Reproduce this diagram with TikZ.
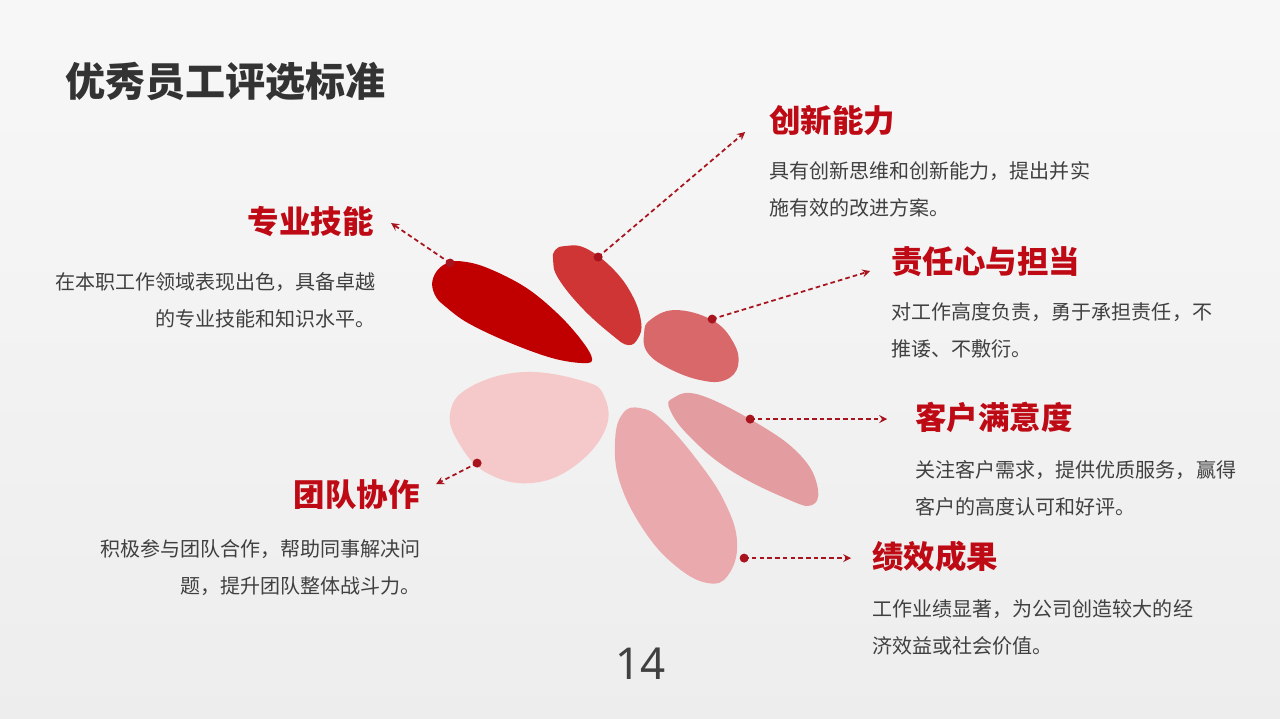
\documentclass[tikz,border=0pt]{standalone}
\usepackage{fontspec}
\setmainfont{Noto Sans CJK SC}
\setsansfont{Noto Sans}
\definecolor{titlegray}{HTML}{333333}
\definecolor{textgray}{HTML}{404040}
\definecolor{headred}{HTML}{BE0A14}
\definecolor{linkred}{HTML}{A8141E}
\definecolor{petalA}{HTML}{C00000}
\definecolor{petalB}{HTML}{CF3535}
\definecolor{petalC}{HTML}{D9686A}
\definecolor{petalD}{HTML}{F5C9CA}
\definecolor{petalE}{HTML}{EAA9AC}
\definecolor{petalF}{HTML}{E39C9F}
\begin{document}
\begin{tikzpicture}[
    x=0.02cm, y=-0.02cm,
    heading/.style={
        inner sep=0pt,
        font=\fontsize{17.9}{20}\selectfont\bfseries,
        text=headred
    },
    bodytext/.style={
        inner sep=0pt,
        font=\fontsize{11.4}{21}\selectfont,
        text=textgray
    },
    dot/.style={
        circle,
        fill=linkred,
        inner sep=0pt,
        minimum size=0.18cm
    },
    link/.style={
        -stealth,
        linkred,
        line width=1pt,
        dash pattern=on 2.6pt off 1.8pt
    }
]

% Hintergrund
\shade[top color=black!3, middle color=white, bottom color=black!7]
    (0cm,0cm) rectangle (25.6cm,-14.38cm);

% Titel
\node[inner sep=0pt, anchor=west, text=titlegray,
      font=\fontsize{22.8}{26}\selectfont\bfseries] (titel) at (65,82) {优秀员工评选标准};

% Blaetter
\fill[petalA] plot[smooth cycle, tension=0.6] coordinates {
    (432,284) (436,272) (445,264) (458,261) (485,267) (525,287) (558,314) (582,341) (592,359)
    (583,363) (552,358) (508,342) (468,323) (446,307) (436,297)};
\fill[petalB] plot[smooth cycle, tension=0.7] coordinates {
    (555,250) (565,246) (585,248) (612,268) (632,295) (641,322) (638,338) (628,345)
    (612,335) (582,308) (558,278) (553,260)};
\fill[petalC] plot[smooth cycle, tension=0.7] coordinates {
    (650,320) (675,310) (712,320) (733,342) (738,365) (725,380) (700,380) (668,368) (647,352) (644,333)};
\fill[petalD] plot[smooth cycle, tension=0.7] coordinates {
    (470,387) (523,372) (583,381) (604,396) (605,430) (573,467) (530,483) (487,473) (460,445) (450,413)};
\fill[petalE] plot[smooth cycle, tension=0.7] coordinates {
    (623,413) (640,408) (662,420) (697,460) (725,503) (737,543) (728,575) (708,583) (677,567) (645,532) (620,483) (615,440)};
\fill[petalF] plot[smooth cycle, tension=0.7] coordinates {
    (673,398) (700,395) (760,425) (800,455) (817,485) (812,505) (785,498) (730,470) (690,437) (670,410)};

% Ueberschriften
\node[heading, anchor=east] (skill) at (374,222) {专业技能};
\node[heading, anchor=west] (innov) at (769,121) {创新能力};
\node[heading, anchor=west] (duty) at (891,262) {责任心与担当};
\node[heading, anchor=west] (client) at (915,417) {客户满意度};
\node[heading, anchor=east] (team) at (420,494) {团队协作};
\node[heading, anchor=west] (result) at (872,556) {绩效成果};

% Beschreibungen
\node[bodytext, anchor=north east, align=right] (skilltext) at (376,272)
    {在本职工作领域表现出色，具备卓越\\的专业技能和知识水平。};
\node[bodytext, anchor=north west, align=left] (innovtext) at (769,161)
    {具有创新思维和创新能力，提出并实\\施有效的改进方案。};
\node[bodytext, anchor=north west, align=left] (dutytext) at (891,302)
    {对工作高度负责，勇于承担责任，不\\推诿、不敷衍。};
\node[bodytext, anchor=north west, align=left] (clienttext) at (915,460)
    {关注客户需求，提供优质服务，赢得\\客户的高度认可和好评。};
\node[bodytext, anchor=north east, align=right] (teamtext) at (421,539)
    {积极参与团队合作，帮助同事解决问\\题，提升团队整体战斗力。};
\node[bodytext, anchor=north west, align=left] (resulttext) at (872,599)
    {工作业绩显著，为公司创造较大的经\\济效益或社会价值。};

% Punkte und Pfeile
\node[dot] (skilldot) at (450,263) {};
\node[dot] (innovdot) at (598,257) {};
\node[dot] (dutydot) at (712,319) {};
\node[dot] (clientdot) at (750,419) {};
\node[dot] (teamdot) at (477,463) {};
\node[dot] (resultdot) at (744,558) {};

\coordinate (skilltip) at (391,223);
\coordinate (innovtip) at (745,132);
\coordinate (dutytip) at (870,271);
\coordinate (clienttip) at (887,419);
\coordinate (teamtip) at (436,484);
\coordinate (resulttip) at (851,558);

\draw[link] (skilldot.center) -- (skilltip);
\draw[link] (innovdot.center) -- (innovtip);
\draw[link] (dutydot.center) -- (dutytip);
\draw[link] (clientdot.center) -- (clienttip);
\draw[link] (teamdot.center) -- (teamtip);
\draw[link] (resultdot.center) -- (resulttip);

% Seitenzahl
\node[inner sep=0pt, text=textgray, font=\sffamily\fontsize{25}{28}\selectfont] (seite) at (640,664) {14};

\end{tikzpicture}
\end{document}
